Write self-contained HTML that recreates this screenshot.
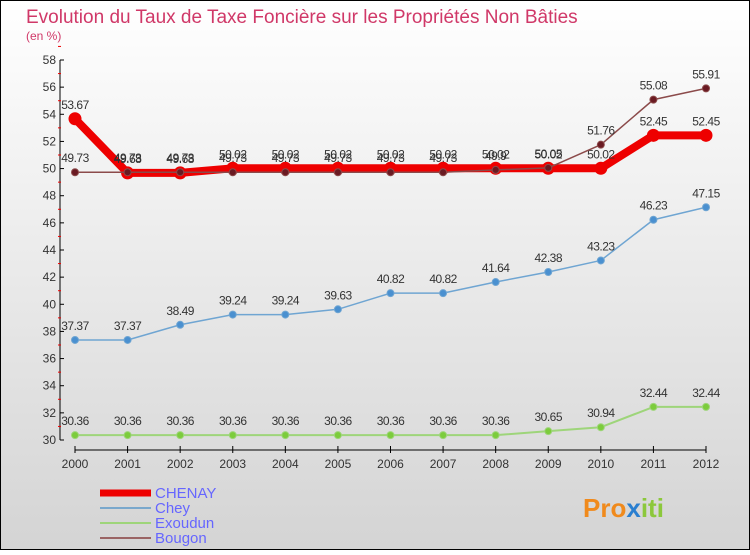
<!DOCTYPE html>
<html><head><meta charset="utf-8"><style>
body{margin:0;width:750px;height:550px;overflow:hidden;font-family:"Liberation Sans",sans-serif}
</style></head><body>
<svg width="750" height="550" xmlns="http://www.w3.org/2000/svg">
<defs><linearGradient id="bg" x1="0" y1="0" x2="0" y2="1"><stop offset="0" stop-color="#ffffff"/><stop offset="1" stop-color="#d4d4d4"/></linearGradient></defs>
<rect x="0.5" y="0.5" width="749" height="549" fill="url(#bg)" stroke="#000"/>
<text x="26" y="23" font-size="19" fill="#d03868">Evolution du Taux de Taxe Foncière sur les Propriétés Non Bâties</text>
<text x="26" y="40" font-size="12" fill="#d03868">(en %)</text>
<g id="axes"></g><g id="series"></g><g id="legend"></g>
<text x="583" y="517" font-size="26" font-weight="bold" fill="#f08a1c">Pro<tspan fill="#2a7fd0">x</tspan><tspan fill="#8cc83c">iti</tspan></text>
</svg>
<script>
const years=[2000,2001,2002,2003,2004,2005,2006,2007,2008,2009,2010,2011,2012];
const yTicks=[30,32,34,36,38,40,42,44,46,48,50,52,54,56,58];
const chenay=[53.67,49.68,49.68,50.02,50.02,50.02,50.02,50.02,50.02,50.02,50.02,52.45,52.45];
const chey=[37.37,37.37,38.49,39.24,39.24,39.63,40.82,40.82,41.64,42.38,43.23,46.23,47.15];
const exoudun=[30.36,30.36,30.36,30.36,30.36,30.36,30.36,30.36,30.36,30.65,30.94,32.44,32.44];
const bougon=[49.73,49.73,49.73,49.73,49.73,49.73,49.73,49.73,49.9,50.05,51.76,55.08,55.91];
const NS="http://www.w3.org/2000/svg";
const X=i=>75+i*(706-75)/(years.length-1);
const Y=v=>440-(v-30)*(380/28);
function mk(p,t,a){const e=document.createElementNS(NS,t);for(const k in a)e.setAttribute(k,a[k]);p.appendChild(e);return e;}
const ax=document.getElementById('axes');
let l=mk(ax,'line',{x1:60,y1:60,x2:60,y2:440,stroke:'#000'});


l=mk(ax,'line',{x1:75,y1:450,x2:706,y2:450,stroke:'#000'});


yTicks.forEach(v=>{const y=Y(v);mk(ax,'line',{x1:60,y1:y,x2:64,y2:y,stroke:'#000'});
 mk(ax,'line',{x1:58,y1:Y(v+1),x2:61,y2:Y(v+1),stroke:'#e00'});
 const t=mk(ax,'text',{x:56,y:y+4,'font-size':12,fill:'#333','text-anchor':'end'});t.textContent=v;
 
 });
years.forEach((yr,i)=>{mk(ax,'line',{x1:X(i),y1:446,x2:X(i),y2:453,stroke:'#000'});
 const t=mk(ax,'text',{x:X(i),y:468,'font-size':12,fill:'#333','text-anchor':'middle'});t.textContent=yr;
 
 });
const sg=document.getElementById('series');
function draw(name,data,color,w,r,dot){
 const g=mk(sg,'g',{});
 
 
 mk(g,'polyline',{points:data.map((v,i)=>X(i)+','+Y(v)).join(' '),fill:'none',stroke:color,'stroke-width':w,'stroke-linejoin':'round'});
 data.forEach((v,i)=>{const c=mk(g,'circle',{cx:X(i),cy:Y(v),r:r,fill:dot,stroke:color,'stroke-width':1});
  
  
  const t=mk(g,'text',{x:X(i),y:Y(v)-10,'font-size':12,fill:'#333','text-anchor':'middle','letter-spacing':'-0.5'});t.textContent=v;
  
  });
}
draw('exoudun',exoudun,'#9ed57a',2,3.5,'#7ccc3c');
draw('chey',chey,'#6fa5d2',1.5,3.5,'#4a90d0');
draw('chenay',chenay,'#ee0000',8,6,'#ee0000');
draw('bougon',bougon,'#8b4a4a',1.5,3.5,'#6a1a22');
const lg=document.getElementById('legend');
[['CHENAY','#ee0000',7],['Chey','#7aa8cc',2],['Exoudun','#9ed57a',2],['Bougon','#9a6464',2]].forEach((s,i)=>{
 const y=492+i*15;
 const ln=mk(lg,'line',{x1:100,y1:y+1,x2:151,y2:y+1,stroke:s[1],'stroke-width':s[2]});
 
 
 const t=mk(lg,'text',{x:155,y:y+6,'font-size':15,fill:'#6666ff'});t.textContent=s[0];
 
 
});
</script>
</body></html>
